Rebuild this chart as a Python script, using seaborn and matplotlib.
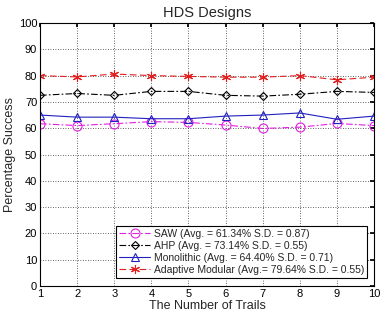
import matplotlib
matplotlib.use("Agg")
import matplotlib.pyplot as plt
import seaborn as sns
import pandas as pd

trails = [1, 2, 3, 4, 5, 6, 7, 8, 9, 10]
saw = [61.7, 61.0, 61.7, 62.5, 62.2, 61.2, 59.9, 60.4, 61.8, 61.0]
ahp = [72.5, 73.2, 72.5, 74.0, 74.0, 72.5, 72.2, 72.9, 74.0, 73.6]
mono = [65.0, 64.2, 64.2, 63.6, 63.6, 64.6, 65.0, 65.8, 63.4, 64.6]
adaptive = [80.0, 79.5, 80.6, 80.0, 79.7, 79.4, 79.4, 80.0, 78.4, 79.4]

labels = [
    "SAW (Avg. = 61.34% S.D. = 0.87)",
    "AHP (Avg. = 73.14% S.D. = 0.55)",
    "Monolithic (Avg. = 64.40% S.D. = 0.71)",
    "Adaptive Modular (Avg.= 79.64% S.D. = 0.55)",
]
title = "HDS Designs"
xlabel = "The Number of Trails"
ylabel = "Percentage Success"

sns.set_theme(style="white")
plt.rcParams['font.family'] = ['Liberation Sans', 'DejaVu Sans']

fig = plt.figure(figsize=(3.89, 3.17), dpi=100)
ax = fig.add_axes([40/389, 1 - 286/317, (374-40)/389, (286-23)/317])

series = [saw, ahp, mono, adaptive]
colors = ["#e020e0", "#000000", "#2020c0", "#e02020"]
styles = [(0, (6, 2, 1.5, 2)), (0, (6, 2, 1.5, 2)), "-", (0, (6, 3))]
markers = ["o", "D", "^", (6, 2, 0)]
msizes = [6.5, 4.5, 6, 6.5]

for vals, lab, c, ls, m, ms in zip(series, labels, colors, styles, markers, msizes):
    df = pd.DataFrame({"x": trails, "y": vals})
    sns.lineplot(data=df, x="x", y="y", ax=ax, color=c, linestyle=ls, marker=m,
                 markersize=ms, markerfacecolor="none", markeredgecolor=c,
                 markeredgewidth=0.8, linewidth=0.8, label=lab)

ax.set_xlim(1, 10)
ax.set_ylim(0, 100)
ax.set_xticks(range(1, 11))
ax.set_yticks(range(0, 101, 10))
ax.grid(True, color="#333333", linestyle=(0, (1, 2)), linewidth=0.6)
for s in ax.spines.values():
    s.set_color("black")
    s.set_linewidth(0.8)
ax.tick_params(axis="both", direction="in", length=3, labelsize=8, top=True, right=True,
               colors="black", pad=2)
ax.set_title(title, fontsize=10.5, pad=4)
ax.set_xlabel(xlabel, fontsize=9, labelpad=1)
ax.set_ylabel(ylabel, fontsize=9, labelpad=2)

leg = ax.legend(loc="lower right", fontsize=7.5, frameon=True, fancybox=False,
                edgecolor="black", framealpha=1, handlelength=3, borderpad=0.3,
                labelspacing=0.2, handletextpad=0.3, bbox_to_anchor=(0.995, 0.01))
leg.get_frame().set_linewidth(0.8)

fig.savefig("out.png", dpi=100)
